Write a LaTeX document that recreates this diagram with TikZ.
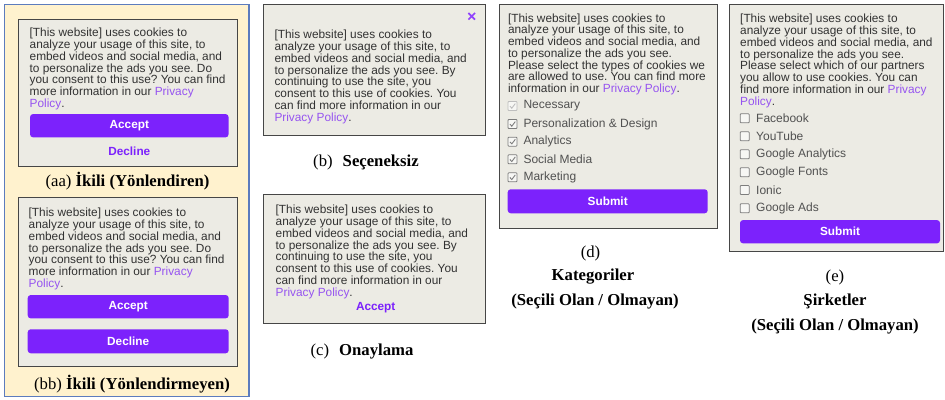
\documentclass[tikz,border=0pt]{standalone}
\usepackage{fontspec}
\setmainfont{Liberation Serif}
\newfontfamily\uifont{Liberation Sans}
\definecolor{panelfill}{RGB}{255,242,206}
\definecolor{panelline}{RGB}{92,124,190}
\definecolor{boxfill}{RGB}{236,235,228}
\definecolor{boxline}{RGB}{70,70,70}
\definecolor{btnpurple}{RGB}{124,34,252}
\definecolor{linkpurple}{RGB}{150,84,240}
\definecolor{txtcol}{RGB}{50,50,50}
\definecolor{cbline}{RGB}{125,125,125}
\definecolor{cbdis}{RGB}{190,190,190}
\frenchspacing
\begin{document}
\begin{tikzpicture}[x=1pt,y=-1pt,
  dlgbox/.style={draw=boxline,line width=1pt,fill=boxfill},
  msg/.style={anchor=north west,inner sep=0pt,align=left,text=txtcol,
    font=\uifont\fontsize{11.85}{11.75}\selectfont\frenchspacing},
  lbl/.style={anchor=west,inner sep=0pt,text=txtcol!85,
    font=\uifont\fontsize{12}{12}\selectfont},
  btn/.style={fill=btnpurple,rounded corners=3pt,text=white,inner sep=0pt,
    font=\uifont\bfseries\fontsize{11.8}{12}\selectfont},
  plink/.style={text=btnpurple,inner sep=0pt,font=\uifont\bfseries\fontsize{11.8}{12}\selectfont},
  captxt/.style={inner sep=0pt,text=black,font=\fontsize{16.7}{18}\selectfont},
  cbox/.style={draw=cbline,line width=0.8pt,fill=white!60!boxfill,minimum size=9pt,inner sep=0pt,rounded corners=0.8pt},
]
\useasboundingbox (0,0) rectangle (945,399);
\newcommand{\lk}[1]{{\color{linkpurple}#1}}
% ---- left panel (aa)/(bb)
\path[fill=panelfill,draw=panelline,line width=1.2pt] (4.8,4.6) rectangle (249,396.5);
% (aa)
\draw[dlgbox] (18.3,19) rectangle (237.3,166);
\node[msg] (ta) at (29.5,28) {[This website] uses cookies to\\analyze your usage of this site, to\\embed videos and social media, and\\to personalize the ads you see. Do\\you consent to this use? You can find\\more information in our \lk{Privacy}\\\lk{Policy}.};
\node[btn,minimum width=198.5pt,minimum height=23.3pt] (aacc) at (129.3,125.7) {Accept};
\node[plink] (adec) at (129.3,151.7) {Decline};
\node[captxt] (capaa) at (127.5,181.5) {(aa) \textbf{İkili (Yönlendiren)}};
% (bb)
\draw[dlgbox] (18.3,197.3) rectangle (237.3,366.7);
\node[msg] (tb) at (28.5,208) {[This website] uses cookies to\\analyze your usage of this site, to\\embed videos and social media, and\\to personalize the ads you see. Do\\you consent to this use? You can find\\more information in our \lk{Privacy}\\\lk{Policy}.};
\node[btn,minimum width=201pt,minimum height=23.3pt] (bacc) at (128.2,306.7) {Accept};
\node[btn,minimum width=201pt,minimum height=24pt] (bdec) at (128.2,341.3) {Decline};
\node[captxt] (capbb) at (132,384) {(bb) \textbf{İkili (Yönlendirmeyen)}};
% ---- (b)
\draw[dlgbox] (263.3,4) rectangle (485,135);
\node[inner sep=0pt] (xmark) at (471.7,16.3) {};
\draw[btnpurple!85,line width=1.7pt] ([shift={(-3.3,-3.3)}]xmark.center) -- ([shift={(3.3,3.3)}]xmark.center)
  ([shift={(-3.3,3.3)}]xmark.center) -- ([shift={(3.3,-3.3)}]xmark.center);
\node[msg] (tbb) at (274.3,30) {[This website] uses cookies to\\analyze your usage of this site, to\\embed videos and social media, and\\to personalize the ads you see. By\\continuing to use the site, you\\consent to this use of cookies. You\\can find more information in our\\\lk{Privacy Policy}.};
\node[captxt] (capb) at (366,162) {(b)\hspace{0.6em}\textbf{Seçeneksiz}};
% ---- (c)
\draw[dlgbox] (263.3,194) rectangle (485,323.3);
\node[msg] (tc) at (275.5,205) {[This website] uses cookies to\\analyze your usage of this site, to\\embed videos and social media, and\\to personalize the ads you see. By\\continuing to use the site, you\\consent to this use of cookies. You\\can find more information in our\\\lk{Privacy Policy}.};
\node[plink] (cacc) at (375.7,307.7) {Accept};
\node[captxt] (capc) at (362,351.7) {(c)\hspace{0.6em}\textbf{Onaylama}};
% ---- (d)
\draw[dlgbox] (499,4) rectangle (717.3,228.3);
\node[msg] (td) at (507.8,13.3) {[This website] uses cookies to\\analyze your usage of this site, to\\embed videos and social media, and\\to personalize the ads you see.\\Please select the types of cookies we\\are allowed to use. You can find more\\information in our \lk{Privacy Policy}.};
\foreach \yy/\nm/\lab/\col in {106/d1/Necessary/cbdis,124/d2/{Personalization \& Design}/cbline,141.7/d3/Analytics/cbline,159.3/d4/{Social Media}/cbline,177.3/d5/Marketing/cbline}{
  \node[cbox,draw=\col] (cb\nm) at (512.5,\yy) {};
  \draw[\col,line width=0.9pt] ([shift={(-2.6,0.2)}]cb\nm.center) -- ([shift={(-0.7,2.2)}]cb\nm.center) -- ([shift={(2.8,-2.4)}]cb\nm.center);
  \node[lbl] (l\nm) at (523.3,\yy) {\lab};
}
\node[btn,minimum width=200pt,minimum height=24pt] (dsub) at (607.7,201.3) {Submit};
\node[captxt] (capd1) at (590.5,253.3) {(d)};
\node[captxt] (capd2) at (593,277) {\textbf{Kategoriler}};
\node[captxt] (capd3) at (595,301.5) {\textbf{(Seçili Olan / Olmayan)}};
% ---- (e)
\draw[dlgbox] (729.3,4) rectangle (943.7,251.7);
\node[msg] (te) at (740,14) {[This website] uses cookies to\\analyze your usage of this site, to\\embed videos and social media, and\\to personalize the ads you see.\\Please select which of our partners\\you allow to use cookies. You can\\find more information in our \lk{Privacy}\\\lk{Policy}.};
\foreach \yy/\nm/\lab in {118.3/e1/Facebook,136.3/e2/YouTube,154.3/e3/{Google Analytics},172.3/e4/{Google Fonts},190/e5/Ionic,208.3/e6/{Google Ads}}{
  \node[cbox] (cb\nm) at (744.7,\yy) {};
  \node[lbl] (l\nm) at (756,\yy) {\lab};
}
\node[btn,minimum width=200pt,minimum height=23.3pt] (esub) at (840,231.7) {Submit};
\node[captxt] (cape1) at (835,277) {(e)};
\node[captxt] (cape2) at (835,301.5) {\textbf{Şirketler}};
\node[captxt] (cape3) at (835,326.5) {\textbf{(Seçili Olan / Olmayan)}};
\end{tikzpicture}
\end{document}
